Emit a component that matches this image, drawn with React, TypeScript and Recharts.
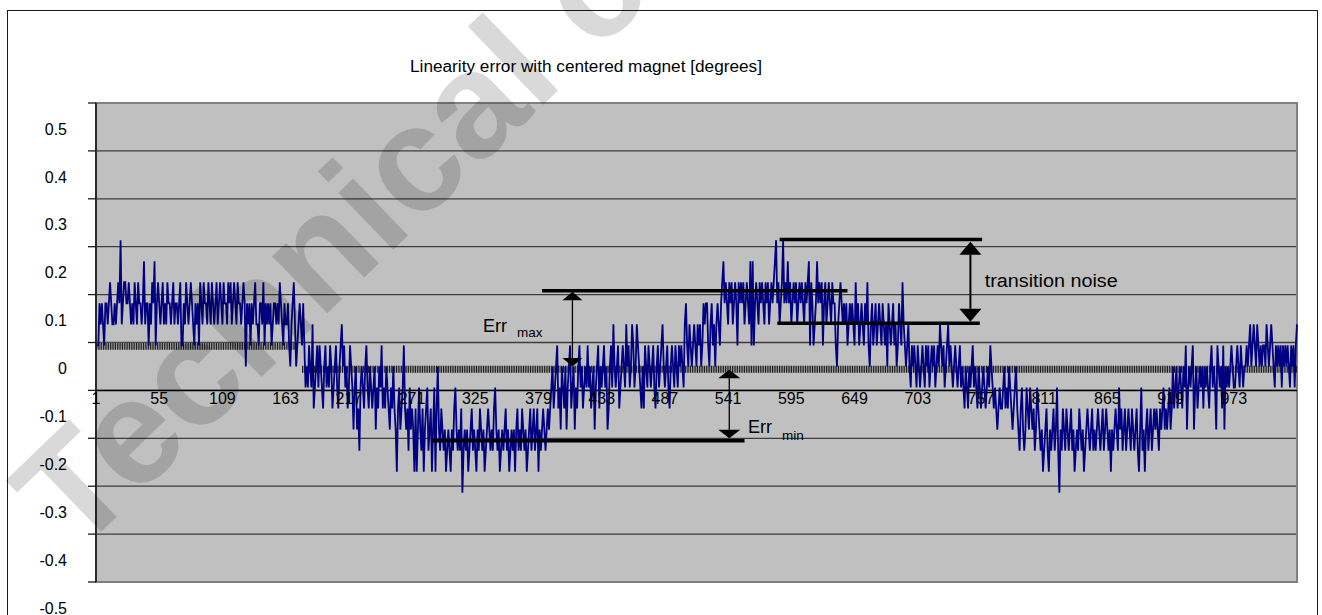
import React from "react"
import {
  LineChart,
  Line,
  XAxis,
  YAxis,
  CartesianGrid,
  ReferenceLine,
  ReferenceArea,
} from "recharts"

const FONT = "'Liberation Sans', Arial, Helvetica, sans-serif"

// sensor output is quantised, 1 LSB = 360/8192 degrees
const LSB = 360 / 8192

// linearity error per sample, in LSB steps
const errSamples1 = [
  1, 1, 1, 3, 2, 3, 2, 1, 3, 3,
  2, 3, 4, 3, 2, 2, 3, 2, 3, 4,
  3, 6, 2, 3, 4, 4, 3, 3, 4, 3,
  2, 3, 2, 4, 3, 2, 4, 3, 3, 2,
  3, 5, 2, 3, 3, 1, 3, 2, 4, 3,
  5, 1, 3, 4, 3, 2, 3, 4, 2, 3,
  2, 4, 3, 3, 2, 3, 4, 2, 3, 3,
  2, 3, 4, 1, 1, 3, 2, 4, 3, 2,
  3, 4, 3, 2, 1, 3, 2, 3, 1, 4,
  3, 2, 4, 3, 3, 2, 4, 3, 2, 4,
  3, 2, 3, 4, 2, 3, 4, 3, 2, 4,
  3, 3, 2, 4, 3, 4, 2, 3, 4, 3,
  2, 4, 3, 3, 2, 3, 4, 3,
]
const errSamples2 = [
  0, 3, 2, 3, 1, 3, 2, 3, 4, 2,
  2, 1, 3, 3, 2, 4, 1, 3, 2, 3,
  2, 3, 1, 2, 3, 3, 2, 3, 2, 4,
  3, 2, 1, 3, 2, 2, 3, 1, 0, 2,
  3, 4, 2, 0, 1, 2, 3, 2, 1, 3,
  1, -1, 0, -1, 1, 0, -1, 2, -2, -1,
  0, 1, -1, 1, 0, -1, -2, 0, 1, -1,
  0, -1, 1, 0, -2, -1, 0, 1, -1, -2,
  0, 1, 2, 0, 1, -1, 0, -2, -1, 1,
  0, -1, -3, -1, 0, -3, -2, -4, -1, 0,
  -1, -2, 0, 1, -1, -2, 0, -1, -2, -1,
  0, -3, -1, -2, 0, -1, 1, -2, -1, -2,
  0, -1, -2, -3, -1, -2, 0, -2,
]
const errSamples3 = [
  -3, -5, -2, -1, -3, -2, -1, 1, -2, -3,
  -2, -4, -1, -3, -2, -3, -5, -2, -5, -3,
  -1, -3, -4, -2, -5, -3, -2, -1, -4, -3,
  -2, -5, -3, -1, -5, -2, 0, -3, -4, -2,
  -3, -4, -3, -5, -4, -3, -4, -5, -3, -4,
  -2, -1, -3, -4, -3, -4, -2, -6, -4, -3,
  -4, -3, -5, -4, -3, -2, -4, -3, -4, -5,
  -3, -4, -2, -3, -4, -3, -5, -4, -3, -2,
  -3, -4, -3, -4, -2, -1, -3, -4, -3, -5,
  -4, -3, -4, -3, -2, -4, -3, -5, -4, -3,
  -4, -3, -5, -3, -2, -4, -3, -4, -2, -3,
  -4, -3, -5, -4, -3, -2, -4, -3, -2, -4,
  -3, -2, -5, -3, -4, -3, -2, -3,
]
const errSamples4 = [
  -4, -3, -2, -3, -2, -1, 0, -2, -1, 0,
  1, -2, -1, -3, 0, -1, -2, 0, -3, -1,
  0, 1, -2, -1, 0, -3, -1, -2, 0, 1,
  -1, 0, -2, -1, 0, -1, 1, -1, 0, -2,
  -1, 0, -3, -1, 0, 1, -2, 0, -1, 0,
  1, -1, 0, -3, -2, 0, 1, -1, 2, 0,
  -1, 0, 1, -2, -1, 0, 1, 0, -1, 2,
  0, 1, -1, 0, 2, 1, -1, 0, 2, 1,
  0, -1, -2, 0, -2, 1, 0, -1, 1, 0,
  -1, 0, 1, -1, -2, 0, 1, -1, 0, 1,
  2, 0, -1, 0, 1, -1, -2, 0, 1, 0,
  -1, 1, 0, -1, 1, 0, 1, 0, -1, 2,
  3, 1, 0, 2, 1, 0, 1, 2,
]
const errSamples5 = [
  1, 0, 2, 1, 2, 0, 1, 3, 2, 3,
  3, 1, 0, 2, 3, 1, 2, 0, 2, 3,
  2, 1, 3, 4, 5, 3, 4, 3, 2, 4,
  3, 4, 2, 3, 4, 3, 1, 4, 3, 4,
  3, 4, 2, 3, 4, 3, 2, 5, 1, 5,
  1, 3, 4, 3, 2, 4, 3, 4, 3, 2,
  4, 3, 4, 2, 3, 4, 3, 4, 5, 6,
  3, 4, 2, 3, 4, 6, 3, 4, 3, 5,
  3, 4, 2, 3, 4, 3, 4, 2, 3, 4,
  3, 4, 3, 2, 4, 3, 4, 5, 1, 4,
  3, 1, 2, 3, 5, 3, 4, 3, 4, 1,
  3, 4, 2, 3, 4, 3, 2, 4, 3, 3,
  1, 0, 2, 3, 4, 3, 2, 3,
]
const errSamples6 = [
  2, 3, 1, 2, 3, 2, 3, 2, 1, 4,
  2, 3, 1, 2, 3, 2, 1, 3, 2, 4,
  1, 0, 2, 3, 1, 2, 3, 1, 2, 3,
  2, 1, 3, 2, 1, 2, 0, 3, 2, 1,
  2, 3, 1, 2, 0, 1, 3, 2, 1, 4,
  2, 1, 0, 1, 2, 0, -1, 1, 0, 1,
  0, -1, 1, 0, -1, 0, 1, 0, -1, 1,
  0, 1, -1, 0, 1, 0, 1, -1, 0, 1,
  0, 2, 1, 0, 1, -1, 0, 1, 2, 0,
  1, 0, -1, 0, 1, 0, -1, 0, 1, -1,
  0, -1, -2, 0, -1, -2, 0, -1, 0, 1,
  -1, 0, -1, -2, 0, -1, -2, -1, 0, -1,
  -2, -1, 0, -1, 1, 0, -1, -2,
]
const errSamples7 = [
  -1, -2, -3, -2, -1, -2, -2, -1, 0, -2,
  -1, -2, 0, -1, -2, -3, -2, -1, 0, -2,
  -3, -4, -2, -1, -3, -4, -3, -1, -2, -3,
  -1, -2, -3, -2, -4, -3, -1, -2, -3, -4,
  -3, -5, -4, -3, -2, -4, -5, -3, -4, -3,
  -2, -4, -3, -1, -4, -6, -3, -4, -2, -3,
  -4, -2, -3, -4, -3, -2, -4, -3, -5, -4,
  -3, -4, -2, -3, -4, -3, -5, -4, -3, -2,
  -3, -4, -3, -2, -4, -3, -4, -3, -2, -3,
  -4, -3, -2, -4, -3, -2, -3, -4, -3, -5,
  -3, -4, -3, -2, -3, -4, -1, -3, -2, -4,
  -3, -2, -4, -3, -2, -3, -4, -2, -3, -4,
  -3, -2, -4, -5, -3, -1, -4, -3,
]
const errSamples8 = [
  -5, -3, -2, -4, -3, -2, -4, -3, -2, -3,
  -2, -3, -4, -2, -3, -2, -1, -3, -2, -3,
  -2, -1, -3, -2, 0, -2, -1, 0, -2, -1,
  0, -1, -2, 0, -1, 1, -3, -1, 0, -1,
  0, 1, -3, -1, 0, -2, -1, 0, -1, 0,
  -2, 0, -1, 0, -1, -2, 0, 1, -1, 0,
  -1, -3, 1, 0, -1, 0, -2, 1, -3, 0,
  -1, 0, -1, 0, 1, 0, -1, -1, 0, 1,
  0, -1, 1, 0, -1, 0, 0, 1, 0, 1,
  2, 0, 1, 2, 1, 0, 2, 1, 0, 1,
  0, 1, 1, 0, 2, 1, 0, 1, 2, 1,
  0, -1, 1, 0, 1, 0, 1, -1, 1, 0,
  1, 0, 1, 0, -1, 1, 0, 1, -1, 1, 2,
]

// hatched reference trace, constant level per sample range
const refSegments = [
  { from: 1, to: 173, value: 0.042 },
  { from: 177, to: 1027, value: -0.006 },
]

const xTicks = [1, 55, 109, 163, 217, 271, 325, 379, 433, 487, 541, 595, 649, 703, 757, 811, 865, 919, 973]
const yGrid = [0.55, 0.45, 0.35, 0.25, 0.15, 0.05, -0.05, -0.15, -0.25, -0.35, -0.45]
const yLabels = ["0.5", "0.4", "0.3", "0.2", "0.1", "0", "-0.1", "-0.2", "-0.3", "-0.4", "-0.5"]
const Y_MIN = -0.45
const Y_MAX = 0.55
const X_AXIS_AT = -0.05

// annotations (sample index / degrees)
const errMaxLine = { from: 382, to: 643, value: 0.158 }
const errMaxArrow = { at: 408, top: 0.156, bottom: 0 }
const errMinLine = { from: 288, to: 555, value: -0.155 }
const errMinArrow = { at: 542, top: -0.007, bottom: -0.15 }
const noiseTopLine = { from: 585, to: 758, value: 0.265 }
const noiseBottomLine = { from: 583, to: 756, value: 0.09 }
const noiseArrow = { at: 748, top: 0.2605, bottom: 0.0935 }

const errLevels = [
  ...errSamples1, ...errSamples2, ...errSamples3, ...errSamples4,
  ...errSamples5, ...errSamples6, ...errSamples7, ...errSamples8,
]

const rows = errLevels.map((lv, i) => {
  const n = i + 1
  const seg = refSegments.find((s) => n >= s.from && n <= s.to)
  return { n, err: lv * LSB, ref: seg ? seg.value : null }
})

const W = 1322
const H = 615
const PLOT_TOP = 103
const PLOT_BOTTOM = 582
const PLOT_LEFT = 96
const PLOT_RIGHT = 1297
const axisPx = PLOT_TOP + ((Y_MAX - X_AXIS_AT) / (Y_MAX - Y_MIN)) * (PLOT_BOTTOM - PLOT_TOP)

function YTick(props: any) {
  const { y, payload } = props
  const idx = yGrid.findIndex((g) => Math.abs(g - payload.value) < 1e-6)
  if (idx < 0) return null
  return (
    <text x={67} y={y + 26} dy="0.35em" textAnchor="end" fontSize={16} fontFamily={FONT} fill="#000">
      {yLabels[idx]}
    </text>
  )
}

function XTick(props: any) {
  const { x, payload } = props
  return (
    <text x={x} y={axisPx + 8} dy="0.35em" textAnchor="middle" fontSize={16} fontFamily={FONT} fill="#000">
      {payload.value}
    </text>
  )
}

const makeArrow =
  (headW: number, headH: number, shaftW: number, label: (x: number, top: number, bot: number) => React.ReactNode) =>
  (props: any) => {
    const x = props.x1
    const top = Math.min(props.y1, props.y2)
    const bot = Math.max(props.y1, props.y2)
    return (
      <g>
        <line x1={x} y1={top + headH} x2={x} y2={bot - headH} stroke="#000" strokeWidth={shaftW} />
        <polygon points={`${x},${top} ${x - headW / 2},${top + headH} ${x + headW / 2},${top + headH}`} fill="#000" />
        <polygon points={`${x},${bot} ${x - headW / 2},${bot - headH} ${x + headW / 2},${bot - headH}`} fill="#000" />
        {label(x, top, bot)}
      </g>
    )
  }

const errMaxShape = makeArrow(20, 8.5, 1.3, (x, top, bot) => {
  const mid = (top + bot) / 2
  return (
    <g fontFamily={FONT} fill="#000">
      <text x={x - 89.4} y={mid + 2.5} fontSize={18}>Err</text>
      <text x={x - 55.4} y={mid + 7.5} fontSize={13.5}>max</text>
    </g>
  )
})

const errMinShape = makeArrow(22, 8.5, 1.3, (x, _top, bot) => (
  <g fontFamily={FONT} fill="#000">
    <text x={x + 18.7} y={bot - 5} fontSize={18}>Err</text>
    <text x={x + 52.7} y={bot + 1.7} fontSize={13.5}>min</text>
  </g>
))

const noiseShape = makeArrow(22, 13, 2, (x, top, bot) => (
  <text
    x={x + 14.3}
    y={(top + bot) / 2 + 5}
    fontSize={18}
    fontFamily={FONT}
    fill="#000"
    textLength={133}
    lengthAdjust="spacingAndGlyphs"
  >
    transition noise
  </text>
))

function hLine(l: { from: number; to: number; value: number }, key: string) {
  return (
    <ReferenceLine
      key={key}
      segment={[
        { x: l.from, y: l.value },
        { x: l.to, y: l.value },
      ]}
      stroke="#000"
      strokeWidth={3.5}
      ifOverflow="visible"
    />
  )
}

function vArrow(a: { at: number; top: number; bottom: number }, shape: any, key: string) {
  return (
    <ReferenceLine
      key={key}
      segment={[
        { x: a.at, y: a.top },
        { x: a.at, y: a.bottom },
      ]}
      shape={shape}
      ifOverflow="visible"
    />
  )
}

export default function App() {
  return (
    <div style={{ position: "absolute", left: 0, top: 0, width: W, height: H, overflow: "hidden", background: "#fff" }}>
      <div
        style={{
          position: "absolute",
          left: 7,
          top: 10,
          width: 1311,
          height: 700,
          border: "1.5px solid #1a1a1a",
          boxSizing: "border-box",
        }}
      />
      <div style={{ position: "absolute", left: 0, top: 0 }}>
        <LineChart
          width={W}
          height={H}
          data={rows}
          margin={{ top: PLOT_TOP, right: W - PLOT_RIGHT, bottom: H - PLOT_BOTTOM - 1, left: 0 }}
        >
          <CartesianGrid vertical={false} fill="#c0c0c0" stroke="#3c3c3c" strokeWidth={1.3} />
          <ReferenceArea y1={Y_MIN} y2={Y_MAX} fill="none" fillOpacity={0} stroke="#808080" strokeWidth={2} />
          <XAxis
            dataKey="n"
            type="category"
            ticks={xTicks}
            interval={0}
            height={1}
            axisLine={false}
            tickLine={false}
            tickMargin={0}
            tick={<XTick />}
          />
          <YAxis
            type="number"
            domain={[Y_MIN, Y_MAX]}
            ticks={yGrid}
            interval={0}
            allowDataOverflow
            width={PLOT_LEFT}
            axisLine={{ stroke: "#1a1a1a", strokeWidth: 1.7 }}
            tickLine={{ stroke: "#1a1a1a", strokeWidth: 1.3 }}
            tickSize={8}
            tick={<YTick />}
          />
          <ReferenceLine y={X_AXIS_AT} stroke="#000" strokeWidth={1.5} />
          <Line
            dataKey="ref"
            stroke="#9a9a9a"
            strokeWidth={7}
            dot={false}
            activeDot={false}
            connectNulls={false}
            isAnimationActive={false}
          />
          <Line
            dataKey="ref"
            stroke="#1e1e1e"
            strokeWidth={7}
            strokeDasharray="1.15 1.2"
            dot={false}
            activeDot={false}
            connectNulls={false}
            isAnimationActive={false}
          />
          <Line
            dataKey="err"
            stroke="#000080"
            strokeWidth={1.8}
            dot={false}
            activeDot={false}
            isAnimationActive={false}
          />
          {hLine(errMaxLine, "l1")}
          {hLine(errMinLine, "l2")}
          {hLine(noiseTopLine, "l3")}
          {hLine(noiseBottomLine, "l4")}
          {vArrow(errMaxArrow, errMaxShape, "a1")}
          {vArrow(errMinArrow, errMinShape, "a2")}
          {vArrow(noiseArrow, noiseShape, "a3")}
        </LineChart>
      </div>
      <svg
        width={W}
        height={H}
        style={{ position: "absolute", left: 0, top: 0, pointerEvents: "none" }}
      >
        <text
          x={410}
          y={72.3}
          fontSize={16}
          fontFamily={FONT}
          fill="#000"
          textLength={352}
          lengthAdjust="spacingAndGlyphs"
        >
          Linearity error with centered magnet [degrees]
        </text>
        <text
          x={76}
          y={556}
          transform="rotate(-44 76 556)"
          fontSize={150}
          fontWeight="bold"
          fontFamily={FONT}
          fill="rgba(0,0,0,0.15)"
        >
          Technical content still valid
        </text>
      </svg>
    </div>
  )
}
